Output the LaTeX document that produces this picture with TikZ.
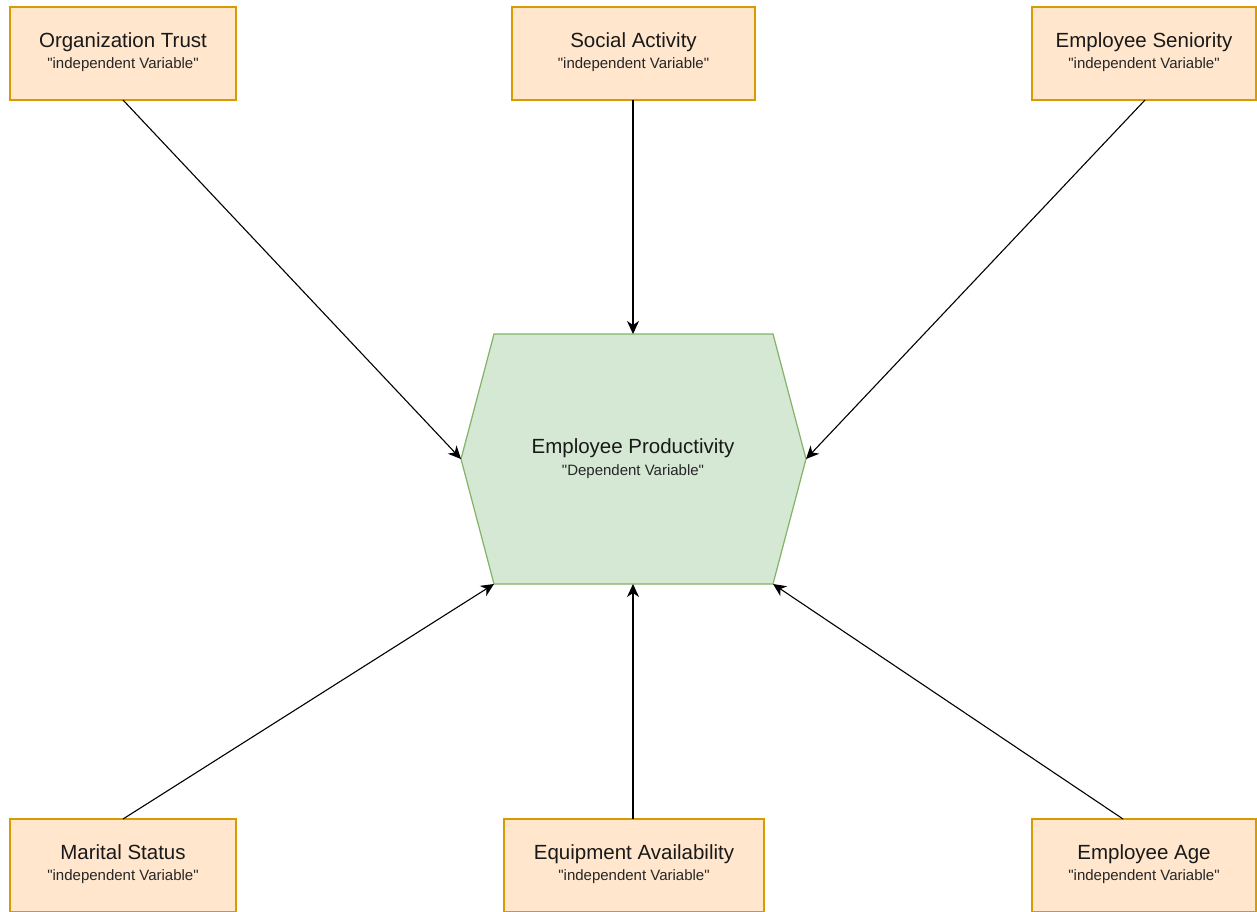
\documentclass[tikz,border=0pt]{standalone}
\usepackage{fontspec}
\newfontfamily\lsans{Liberation Sans}
\usetikzlibrary{arrows.meta}
\definecolor{boxfill}{HTML}{FFE6CC}
\definecolor{boxdraw}{HTML}{D79B00}
\definecolor{hexfill}{HTML}{D5E8D4}
\definecolor{hexdraw}{HTML}{82B366}
\tikzset{
  varbox/.style={draw=boxdraw, fill=boxfill, line width=1.2pt, rectangle, inner sep=0pt},
  ttl/.style={anchor=base, font=\lsans\fontsize{20.5}{23}\selectfont, inner sep=0pt, text=black!90},
  sub/.style={anchor=base, font=\lsans\fontsize{15}{17}\selectfont, inner sep=0pt, text=black!85},
  conn/.style={line width=1.1pt, -{Stealth[length=13pt,width=12pt,inset=4pt]}},
}
\begin{document}
\begin{tikzpicture}[x=1pt,y=-1pt]
\clip (0,0) rectangle (1257,911);
\fill[white] (0,0) rectangle (1257,911);
% boxes
\node[varbox, minimum width=226pt, minimum height=93pt] (ot) at (123,53.5) {};
\node[varbox, minimum width=243pt, minimum height=93pt] (sa) at (633.5,53.5) {};
\node[varbox, minimum width=224pt, minimum height=93pt] (es) at (1144,53.5) {};
\node[varbox, minimum width=226pt, minimum height=93pt] (ms) at (123,865.5) {};
\node[varbox, minimum width=260pt, minimum height=93pt] (ea) at (634,865.5) {};
\node[varbox, minimum width=224pt, minimum height=93pt] (ag) at (1144,865.5) {};
% hexagon
\coordinate (hl) at (461,459);
\coordinate (htl) at (494,334);
\coordinate (htr) at (773,334);
\coordinate (hr) at (806,459);
\coordinate (hbr) at (773,584);
\coordinate (hbl) at (494,584);
\coordinate (htm) at (633,334);
\coordinate (hbm) at (633,584);
\draw[draw=hexdraw, fill=hexfill, line width=1.2pt, line join=miter] (hl) -- (htl) -- (htr) -- (hr) -- (hbr) -- (hbl) -- cycle;
% texts
\node[ttl] (ott) at (123,47) {Organization Trust};
\node[sub] (ots) at (123,68) {"independent Variable"};
\node[ttl] (sat) at (633.5,47) {Social Activity};
\node[sub] (sas) at (633.5,68) {"independent Variable"};
\node[ttl] (est) at (1144,47) {Employee Seniority};
\node[sub] (ess) at (1144,68) {"independent Variable"};
\node[ttl] (mst) at (123,859) {Marital Status};
\node[sub] (mss) at (123,880) {"independent Variable"};
\node[ttl] (eat) at (634,859) {Equipment Availability};
\node[sub] (eas) at (634,880) {"independent Variable"};
\node[ttl] (agt) at (1144,859) {Employee Age};
\node[sub] (ags) at (1144,880) {"independent Variable"};
\node[ttl] (ept) at (633,453) {Employee Productivity};
\node[sub] (eps) at (633,475) {"Dependent Variable"};
% connectors
\coordinate (otb) at (123,100);
\coordinate (sab) at (633,100);
\coordinate (esb) at (1145,100);
\coordinate (mst0) at (123,819);
\coordinate (eat0) at (633,819);
\coordinate (agt0) at (1123,819);
\draw[conn] (otb) -- (hl);
\draw[conn] (sab) -- (htm);
\draw[conn] (esb) -- (hr);
\draw[conn] (mst0) -- (hbl);
\draw[conn] (eat0) -- (hbm);
\draw[conn] (agt0) -- (hbr);
\end{tikzpicture}
\end{document}
